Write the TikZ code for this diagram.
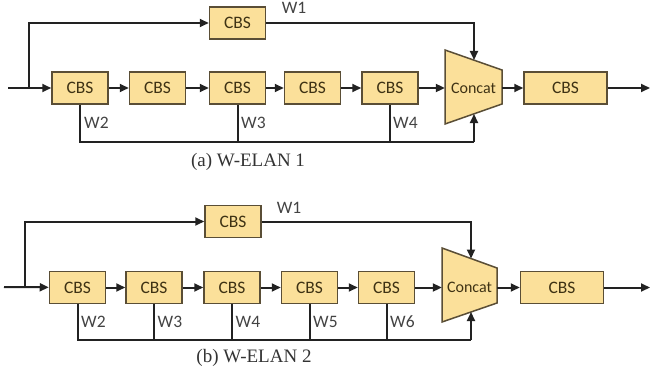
\documentclass[tikz,border=0pt]{standalone}
\usepackage{fontspec}
\setmainfont{Liberation Serif}
\newfontfamily\calib{Carlito}
\usetikzlibrary{arrows.meta}
\definecolor{boxfill}{HTML}{FBE09A}
\definecolor{boxline}{HTML}{5A4E36}
\definecolor{boxtext}{HTML}{3E3214}
\definecolor{wire}{HTML}{222222}
\begin{document}
\begin{tikzpicture}[x=1pt,y=-1pt,
  cbs/.style={draw=boxline,line width=1.5pt,fill=boxfill,text=boxtext,
    minimum width=56pt,minimum height=32pt,inner sep=0pt,
    font=\calib\fontsize{17.5}{17.5}\selectfont},
  wide/.style={cbs,minimum width=83pt},
  conc/.style={draw=boxline,line width=1.5pt,fill=boxfill},
  ctext/.style={text=boxtext,inner sep=0pt,font=\calib\fontsize{16}{16}\selectfont},
  wlab/.style={text=wire!85,inner sep=0pt,font=\calib\fontsize{17.5}{17.5}\selectfont},
  captxt/.style={inner sep=0pt,text=black!80,font=\fontsize{19}{19}\selectfont},
  wr/.style={draw=wire,line width=2pt},
  arr/.style={wr,-{Triangle[length=9pt,width=8pt]}}]
\useasboundingbox (0,0) rectangle (652,377);
% ================= (a) =================
\coordinate (ain) at (8,88);
\coordinate (asp) at (29,88);
\node[cbs] (at) at (237.5,23) {CBS};
\node[cbs] (a1) at (80,88) {CBS};
\node[cbs] (a2) at (157.5,88) {CBS};
\node[cbs] (a3) at (237.5,88) {CBS};
\node[cbs] (a4) at (312.5,88) {CBS};
\node[cbs] (a5) at (390,88) {CBS};
\draw[conc] (445,50) -- (502,70) -- (502,104) -- (445,124) -- cycle;
\node[ctext,minimum width=57pt,minimum height=34pt] (ac) at (473.5,88) {Concat};
\coordinate (actop) at (474,60);
\coordinate (acbot) at (474,114);
\node[wide] (a6) at (565.5,88) {CBS};
\coordinate (aout) at (650,88);
\coordinate (abr) at (474,142);
\draw[arr] (ain) -- (a1);
\draw[arr] (asp) |- (at);
\draw[arr] (at) -| (actop);
\draw[arr] (a1) -- (a2);
\draw[arr] (a2) -- (a3);
\draw[arr] (a3) -- (a4);
\draw[arr] (a4) -- (a5);
\draw[arr] (a5) -- (ac.west);
\draw[arr] (ac.east) -- (a6);
\draw[arr] (a6) -- (aout);
\draw[wr] (a1.south) |- (abr);
\draw[wr] (a3.south) -- (a3.south |- abr);
\draw[wr] (a5.south) -- (a5.south |- abr);
\draw[arr] (abr) -- (acbot);
\node[wlab,anchor=south] (aw1) at (294,14) {W1};
\node[wlab,anchor=west] (aw2) at (84,123) {W2};
\node[wlab,anchor=west] (aw3) at (241,123) {W3};
\node[wlab,anchor=west] (aw4) at (393,123) {W4};
\node[captxt] (acap) at (248,162) {(a) W-ELAN 1};
% ================= (b) =================
\coordinate (bin) at (4,287);
\coordinate (bsp) at (25,287);
\node[cbs] (bt) at (233,221.5) {CBS};
\node[cbs] (b1) at (77.5,287.5) {CBS};
\node[cbs] (b2) at (154,287.5) {CBS};
\node[cbs] (b3) at (232,287.5) {CBS};
\node[cbs] (b4) at (309.5,287.5) {CBS};
\node[cbs] (b5) at (386.5,287.5) {CBS};
\draw[conc] (442,248) -- (497,268) -- (497,303) -- (442,322) -- cycle;
\node[ctext,minimum width=55pt,minimum height=34pt] (bc) at (469.5,287.5) {Concat};
\coordinate (bctop) at (471,258.5);
\coordinate (bcbot) at (471,312);
\node[wide] (b6) at (562,287.5) {CBS};
\coordinate (bout) at (650,287.5);
\coordinate (bbr) at (471,340);
\draw[arr] (bin) -- (b1);
\draw[arr] (bsp) |- (bt);
\draw[arr] (bt) -| (bctop);
\draw[arr] (b1) -- (b2);
\draw[arr] (b2) -- (b3);
\draw[arr] (b3) -- (b4);
\draw[arr] (b4) -- (b5);
\draw[arr] (b5) -- (bc.west);
\draw[arr] (bc.east) -- (b6);
\draw[arr] (b6) -- (bout);
\draw[wr] (b1.south) |- (bbr);
\draw[wr] (b2.south) -- (b2.south |- bbr);
\draw[wr] (b3.south) -- (b3.south |- bbr);
\draw[wr] (b4.south) -- (b4.south |- bbr);
\draw[wr] (b5.south) -- (b5.south |- bbr);
\draw[arr] (bbr) -- (bcbot);
\node[wlab] (bw1) at (289,208) {W1};
\node[wlab,anchor=west] (bw2) at (81,321.5) {W2};
\node[wlab,anchor=west] (bw3) at (157.5,321.5) {W3};
\node[wlab,anchor=west] (bw4) at (235.5,321.5) {W4};
\node[wlab,anchor=west] (bw5) at (313,321.5) {W5};
\node[wlab,anchor=west] (bw6) at (390,321.5) {W6};
\node[captxt] (bcap) at (254,358) {(b) W-ELAN 2};
\end{tikzpicture}
\end{document}
